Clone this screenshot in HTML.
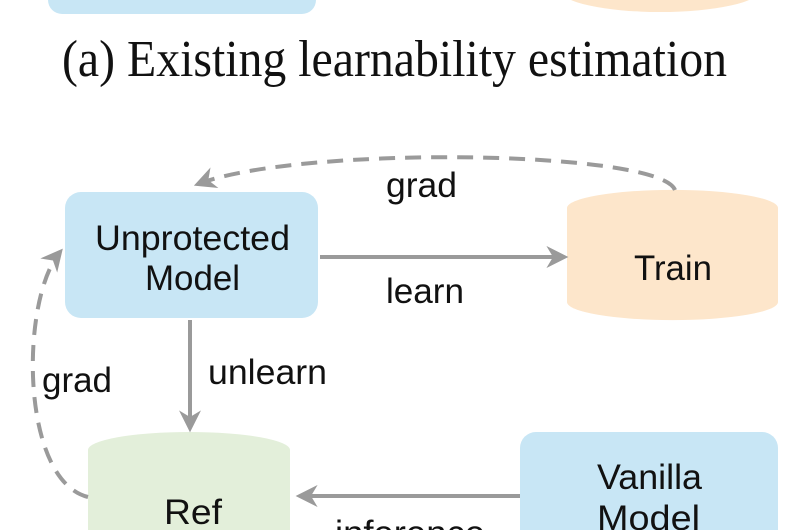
<!DOCTYPE html>
<html><head><style>
html,body{margin:0;padding:0;background:#fff;width:800px;height:530px;overflow:hidden}
svg{display:block;overflow:hidden}
</style></head><body>
<svg width="800" height="530" viewBox="0 0 800 530" xmlns="http://www.w3.org/2000/svg">
<defs>
<marker id="ah" viewBox="0 0 10 10" refX="8" refY="5" markerWidth="5.5" markerHeight="5.5" orient="auto"><path d="M0,0 L10,5 L0,10 L3,5 z" fill="#9a9a9a"/></marker>
</defs>
<rect x="48" y="-40" width="268" height="54" rx="14" fill="#c8e6f5"/>
<ellipse cx="660" cy="-10" rx="100" ry="22" fill="#fde6cb"/>
<text x="62" y="76" textLength="665" lengthAdjust="spacingAndGlyphs" font-family="Liberation Serif, serif" font-size="52" fill="#111">(a) Existing learnability estimation</text>
<g font-family="Liberation Sans, sans-serif" font-size="35" fill="#111">
<rect x="65" y="192" width="253" height="126" rx="16" fill="#c8e6f5"/>
<text x="95" y="250" textLength="195" lengthAdjust="spacingAndGlyphs">Unprotected</text>
<text x="145" y="290" textLength="95" lengthAdjust="spacingAndGlyphs">Model</text>
<path d="M567,208 A105,18 0 0 1 778,208 L778,302 A105,18 0 0 1 567,302 Z" fill="#fde6cb"/>
<text x="634" y="280" textLength="78" lengthAdjust="spacingAndGlyphs">Train</text>
<path d="M88,450 A101,18 0 0 1 290,450 L290,530 L88,530 Z" fill="#e3efda"/>
<text x="164" y="524" textLength="58" lengthAdjust="spacingAndGlyphs">Ref</text>
<path d="M536,432 H762 A16,16 0 0 1 778,448 V530 H520 V448 A16,16 0 0 1 536,432 Z" fill="#c8e6f5"/>
<text x="597" y="489" textLength="105" lengthAdjust="spacingAndGlyphs">Vanilla</text>
<text x="597" y="530" textLength="103" lengthAdjust="spacingAndGlyphs">Model</text>
<line x1="320" y1="257" x2="564" y2="257" stroke="#9a9a9a" stroke-width="4" marker-end="url(#ah)"/>
<text x="386" y="303" textLength="78" lengthAdjust="spacingAndGlyphs">learn</text>
<line x1="190" y1="320" x2="190" y2="428" stroke="#9a9a9a" stroke-width="4" marker-end="url(#ah)"/>
<text x="208" y="384" textLength="119" lengthAdjust="spacingAndGlyphs">unlearn</text>
<line x1="520" y1="496" x2="300" y2="496" stroke="#9a9a9a" stroke-width="4" marker-end="url(#ah)"/>
<text x="335" y="545" textLength="150" lengthAdjust="spacingAndGlyphs">inference</text>
<path d="M675,190 C660,150 300,145 198,184" fill="none" stroke="#9a9a9a" stroke-width="4" stroke-dasharray="16,10" marker-end="url(#ah)"/>
<text x="386" y="197" textLength="71" lengthAdjust="spacingAndGlyphs">grad</text>
<path d="M88,497 C20,480 20,300 60,252" fill="none" stroke="#9a9a9a" stroke-width="4" stroke-dasharray="16,10" marker-end="url(#ah)"/>
<text x="42" y="392" textLength="70" lengthAdjust="spacingAndGlyphs">grad</text>
</g>
</svg>
</body></html>
